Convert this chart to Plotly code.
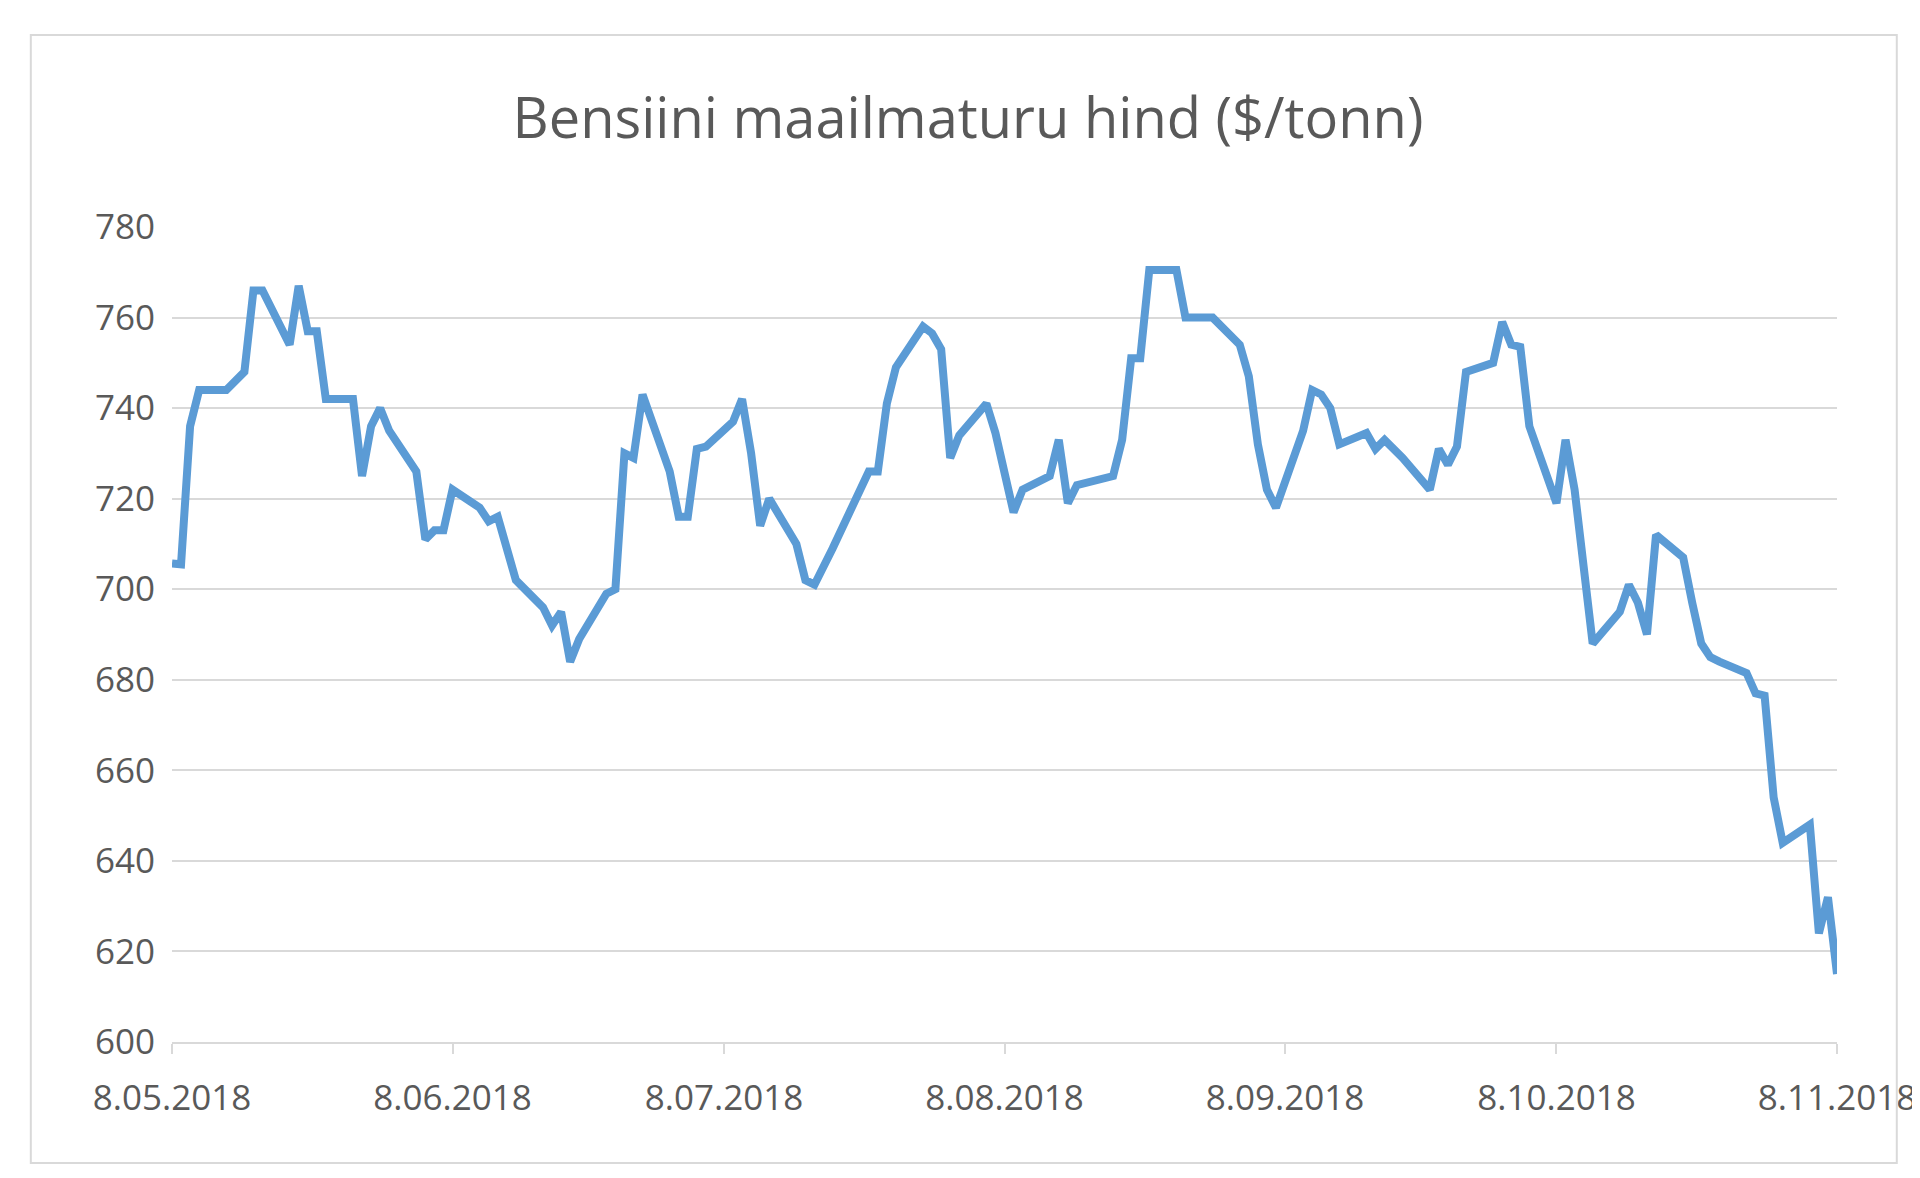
import pandas as pd
import plotly.graph_objects as go

# trading days and price ($/tonn)
dates = ["2018-05-08", "2018-05-09", "2018-05-10", "2018-05-11", "2018-05-14", "2018-05-16", "2018-05-17",
         "2018-05-18", "2018-05-21", "2018-05-22", "2018-05-23", "2018-05-24", "2018-05-25", "2018-05-28",
         "2018-05-29", "2018-05-30", "2018-05-31", "2018-06-01", "2018-06-04", "2018-06-05", "2018-06-06",
         "2018-06-07", "2018-06-08", "2018-06-11", "2018-06-12", "2018-06-13", "2018-06-15", "2018-06-18",
         "2018-06-19", "2018-06-20", "2018-06-21", "2018-06-22", "2018-06-25", "2018-06-26", "2018-06-27",
         "2018-06-28", "2018-06-29", "2018-07-02", "2018-07-03", "2018-07-04", "2018-07-05", "2018-07-06",
         "2018-07-09", "2018-07-10", "2018-07-11", "2018-07-12", "2018-07-13", "2018-07-16", "2018-07-17",
         "2018-07-18", "2018-07-20", "2018-07-23", "2018-07-24", "2018-07-25", "2018-07-26", "2018-07-27",
         "2018-07-30", "2018-07-31", "2018-08-01", "2018-08-02", "2018-08-03", "2018-08-06", "2018-08-07",
         "2018-08-09", "2018-08-10", "2018-08-13", "2018-08-14", "2018-08-15", "2018-08-16", "2018-08-20",
         "2018-08-21", "2018-08-22", "2018-08-23", "2018-08-24", "2018-08-27", "2018-08-28", "2018-08-29",
         "2018-08-30", "2018-08-31", "2018-09-03", "2018-09-04", "2018-09-05", "2018-09-06", "2018-09-07",
         "2018-09-10", "2018-09-11", "2018-09-12", "2018-09-13", "2018-09-14", "2018-09-17", "2018-09-18",
         "2018-09-19", "2018-09-20", "2018-09-21", "2018-09-24", "2018-09-25", "2018-09-26", "2018-09-27",
         "2018-09-28", "2018-10-01", "2018-10-02", "2018-10-03", "2018-10-04", "2018-10-05", "2018-10-08",
         "2018-10-09", "2018-10-10", "2018-10-11", "2018-10-12", "2018-10-15", "2018-10-16", "2018-10-17",
         "2018-10-18", "2018-10-19", "2018-10-22", "2018-10-23", "2018-10-24", "2018-10-25", "2018-10-26",
         "2018-10-29", "2018-10-30", "2018-10-31", "2018-11-01", "2018-11-02", "2018-11-05", "2018-11-06",
         "2018-11-07", "2018-11-08"]
prices = [705.7, 705.5, 736, 744, 744, 748, 766,
          766, 754, 767, 757, 757, 742, 742,
          725, 736, 740, 735, 726, 711, 713,
          713, 722, 718, 715, 716, 702, 696,
          692, 695, 684, 689, 699, 700, 730,
          729, 743, 726, 716, 716, 731, 731.5,
          737, 742, 730, 714, 720, 710, 702,
          701, 709, 722, 726, 726, 741, 749,
          758, 756.5, 753, 729, 734, 741, 734.5,
          717, 722, 725, 733, 719, 723, 725,
          733, 751, 751, 770.5, 770.5, 760, 760,
          760, 760, 754, 747, 732, 722, 718,
          735, 744, 743, 740, 732, 734.5, 731,
          733, 731, 729, 722, 731, 727.5, 731.5,
          748, 750, 759, 754, 753.5, 736, 719,
          733, 722, 704, 688, 695, 701, 697,
          690, 712, 707, 697, 688, 685, 684,
          681.5, 677, 676.5, 654, 644, 648, 624,
          632, 615]
tick_dates = ["2018-05-08", "2018-06-08", "2018-07-08", "2018-08-08", "2018-09-08", "2018-10-08", "2018-11-08"]
tick_labels = ["8.05.2018", "8.06.2018", "8.07.2018", "8.08.2018", "8.09.2018", "8.10.2018", "8.11.2018"]

df = pd.DataFrame({"date": pd.to_datetime(dates), "price": prices})

fig = go.Figure()
fig.add_trace(go.Scatter(x=df.date, y=df.price, mode="lines", cliponaxis=False,
                         line=dict(color="#5B9BD5", width=8), showlegend=False))

fig.update_layout(
    width=1920, height=1178,
    paper_bgcolor="white", plot_bgcolor="white",
    margin=dict(l=164, r=80, t=219, b=144),
    font=dict(family="Open Sans", color="#595959", size=35),
    title=dict(text="Bensiini maailmaturu hind ($/tonn)", x=0.5, xanchor="center",
               y=0.906, yanchor="middle", font=dict(size=56, color="#595959")),
    xaxis=dict(range=["2018-05-08", "2018-11-08"], tickvals=tick_dates, ticktext=tick_labels,
               showgrid=False, showline=True, linecolor="#D9D9D9", linewidth=2,
               ticks="outside", tickcolor="#D9D9D9", ticklen=10, tickwidth=2, ticklabelstandoff=14),
    yaxis=dict(range=[600, 780], dtick=20, showgrid=True, gridcolor="#D9D9D9", gridwidth=2,
               zeroline=False, ticklabelstandoff=16),
    shapes=[dict(type="rect", xref="paper", yref="paper", x0=-0.0848, x1=1.0359, y0=-0.1485, y1=1.2356,
                 line=dict(color="#D9D9D9", width=2))],
)

fig.write_html("out.html")
